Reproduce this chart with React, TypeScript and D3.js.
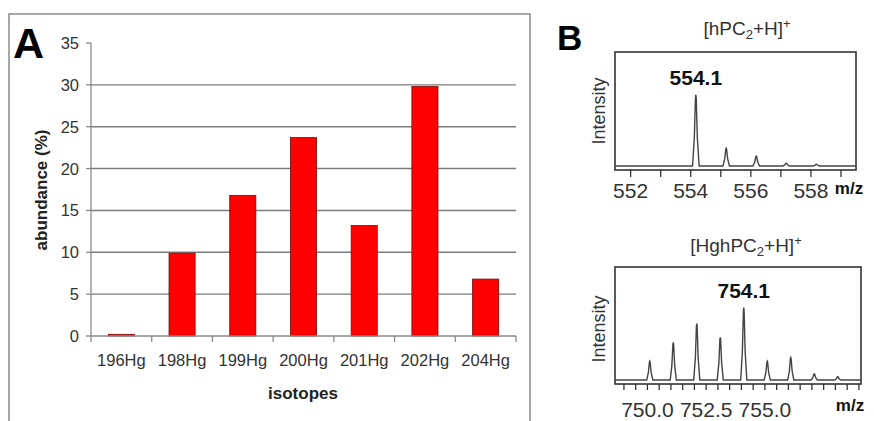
import React, { useEffect } from 'react';
import * as d3 from 'd3';

const categories = ['196Hg', '198Hg', '199Hg', '200Hg', '201Hg', '202Hg', '204Hg'];
const abundance = [0.2, 9.9, 16.8, 23.7, 13.2, 29.8, 6.8];
const yTicksA = [0, 5, 10, 15, 20, 25, 30, 35];

const mzTop = [554.17, 555.18, 556.18, 557.18, 558.18];
const intTop = [100, 25, 14, 4, 2.5];
const topTickValues = [552, 553, 554, 555, 556, 557, 558, 559];
const topTickLabels = [552, 554, 556, 558];

const mzBottom = [750.1, 751.1, 752.1, 753.1, 754.1, 755.1, 756.1, 757.1, 758.1];
const intBottom = [26, 52, 78, 59, 100, 26, 31, 8.5, 4.5];
const bottomTickValues = [749, 749.5, 750, 750.5, 751, 751.5, 752, 752.5, 753, 753.5, 754, 754.5, 755, 755.5, 756, 756.5, 757, 757.5, 758, 758.5, 759];
const bottomTickLabels = [750, 752.5, 755];

const FONT = 'Liberation Sans, Arial, sans-serif';
const NARROW = 'Liberation Sans Narrow, Liberation Sans, Arial, sans-serif';

function spectrumPath(mz: number[], inten: number[], x: d3.ScaleLinear<number, number>, y: d3.ScaleLinear<number, number>, hw: number) {
  const [x0, x1] = x.domain();
  const pts: [number, number][] = [[x0, 0]];
  mz.forEach((m, i) => {
    const h = inten[i];
    pts.push([m - hw, 0], [m - hw * 0.45, h * 0.4], [m - hw * 0.12, h * 0.95], [m, h], [m + hw * 0.12, h * 0.95], [m + hw * 0.45, h * 0.4], [m + hw, 0]);
  });
  pts.push([x1, 0]);
  return d3.line<[number, number]>().x(d => x(d[0])).y(d => y(d[1]))(pts) || '';
}

export default function App() {
  useEffect(() => {
    document.body.style.margin = '0';
  }, []);

  // Panel A scales
  const xA = d3.scaleBand<string>().domain(categories).range([91, 516]).padding(0);
  const yA = d3.scaleLinear().domain([0, 35]).range([336, 43]);
  const barW = xA.bandwidth() * 0.43;

  // Panel B top
  const xT = d3.scaleLinear().domain([551.48, 559.5]).range([615, 856]);
  const yT = d3.scaleLinear().domain([0, 160]).range([166, 52]);
  // Panel B bottom
  const xB = d3.scaleLinear().domain([748.62, 759.09]).range([615, 861]);
  const yB = d3.scaleLinear().domain([0, 156]).range([380, 267]);

  const topBoxBottom = 170;
  const botBoxBottom = 384;

  return (
    <svg width={874} height={421} style={{ position: 'absolute', left: 0, top: 0, background: '#fff' }}>
      <rect x={0} y={0} width={874} height={421} fill="#fff" />
      {/* Panel A frame */}
      <path d="M9,430 L9,14 L530,14 L530,430" fill="none" stroke="#8a8a8a" strokeWidth={1.5} />
      <text x={13} y={58} fontFamily={FONT} fontWeight="bold" fontSize={43} fill="#000">A</text>

      {/* gridlines */}
      {yTicksA.filter(t => t > 0 && t < 35).map(t => (
        <line key={'g' + t} x1={91} x2={516} y1={yA(t)} y2={yA(t)} stroke="#7d7d7d" strokeWidth={1.4} />
      ))}
      {/* y axis */}
      <line x1={91} x2={91} y1={yA(35)} y2={yA(0)} stroke="#8a8a8a" strokeWidth={1.3} />
      {yTicksA.map(t => (
        <g key={'yt' + t}>
          <line x1={86} x2={91} y1={yA(t)} y2={yA(t)} stroke="#8a8a8a" strokeWidth={1.3} />
          <text x={79} y={yA(t)} dy="0.36em" textAnchor="end" fontFamily={FONT} fontSize={16.5} fill="#333">{t}</text>
        </g>
      ))}
      {/* bars */}
      {categories.map((c, i) => (
        <rect key={c} x={(xA(c) as number) + xA.bandwidth() / 2 - barW / 2} y={yA(abundance[i])}
          width={barW} height={yA(0) - yA(abundance[i])} fill="#ff0000" stroke="#7a0a0a" strokeWidth={0.8} />
      ))}
      {/* x axis */}
      <line x1={91} x2={516} y1={yA(0)} y2={yA(0)} stroke="#8a8a8a" strokeWidth={1.3} />
      {categories.concat(['end']).map((c, i) => {
        const xp = 91 + i * xA.step();
        return <line key={'xt' + i} x1={xp} x2={xp} y1={yA(0)} y2={yA(0) + 6} stroke="#8a8a8a" strokeWidth={1.3} />;
      })}
      {categories.map(c => (
        <text key={'xl' + c} x={(xA(c) as number) + xA.bandwidth() / 2} y={366} textAnchor="middle" fontFamily={FONT} fontSize={16.5} fill="#333">{c}</text>
      ))}
      <text x={303} y={399} textAnchor="middle" fontFamily={FONT} fontWeight="bold" fontSize={17} fill="#222">isotopes</text>
      <text transform="translate(47,190) rotate(-90)" textAnchor="middle" fontFamily={FONT} fontWeight="bold" fontSize={17} fill="#222">abundance (%)</text>

      {/* Panel B */}
      <text x={557} y={50} fontFamily={FONT} fontWeight="bold" fontSize={35} fill="#000">B</text>

      {/* top spectrum */}
      <text x={747} y={35} textAnchor="middle" fontFamily={FONT} fontSize={19} fill="#333">
        [hPC<tspan fontSize={13} dy={4}>2</tspan><tspan dy={-4}>+H]</tspan><tspan fontSize={13} dy={-7}>+</tspan>
      </text>
      <rect x={615} y={52} width={856 - 615} height={topBoxBottom - 52} fill="none" stroke="#333" strokeWidth={1.6} />
      <path d={spectrumPath(mzTop, intTop, xT, yT, 0.11)} fill="none" stroke="#444" strokeWidth={1.4} />
      {topTickValues.map(t => (
        <line key={'tt' + t} x1={xT(t)} x2={xT(t)} y1={topBoxBottom} y2={topBoxBottom + 7} stroke="#333" strokeWidth={1.3} />
      ))}
      {topTickLabels.map(t => (
        <text key={'tl' + t} x={xT(t)} y={198} textAnchor="middle" fontFamily={NARROW} fontSize={21} fill="#333">{t}</text>
      ))}
      <text x={849} y={194} textAnchor="middle" fontFamily={FONT} fontWeight="bold" fontSize={17} fill="#111">m/z</text>
      <text transform="translate(605,111) rotate(-90)" textAnchor="middle" fontFamily={NARROW} fontSize={18} fill="#333">Intensity</text>
      <text x={xT(mzTop[0])} y={85} textAnchor="middle" fontFamily={FONT} fontWeight="bold" fontSize={21} fill="#111">554.1</text>

      {/* bottom spectrum */}
      <text x={746} y={252} textAnchor="middle" fontFamily={FONT} fontSize={19} fill="#333">
        [HghPC<tspan fontSize={13} dy={4}>2</tspan><tspan dy={-4}>+H]</tspan><tspan fontSize={13} dy={-7}>+</tspan>
      </text>
      <rect x={615} y={267} width={861 - 615} height={botBoxBottom - 267} fill="none" stroke="#333" strokeWidth={1.6} />
      <path d={spectrumPath(mzBottom, intBottom, xB, yB, 0.13)} fill="none" stroke="#444" strokeWidth={1.4} />
      {bottomTickValues.map(t => (
        <line key={'bt' + t} x1={xB(t)} x2={xB(t)} y1={botBoxBottom} y2={botBoxBottom + 6} stroke="#333" strokeWidth={1.3} />
      ))}
      {bottomTickLabels.map(t => (
        <text key={'bl' + t} x={xB(t)} y={417} textAnchor="middle" fontFamily={NARROW} fontSize={21} fill="#333">{t.toFixed(1)}</text>
      ))}
      <text x={850} y={411} textAnchor="middle" fontFamily={FONT} fontWeight="bold" fontSize={17} fill="#111">m/z</text>
      <text transform="translate(605,329) rotate(-90)" textAnchor="middle" fontFamily={NARROW} fontSize={18} fill="#333">Intensity</text>
      <text x={xB(mzBottom[4])} y={298} textAnchor="middle" fontFamily={FONT} fontWeight="bold" fontSize={21} fill="#111">754.1</text>
    </svg>
  );
}
